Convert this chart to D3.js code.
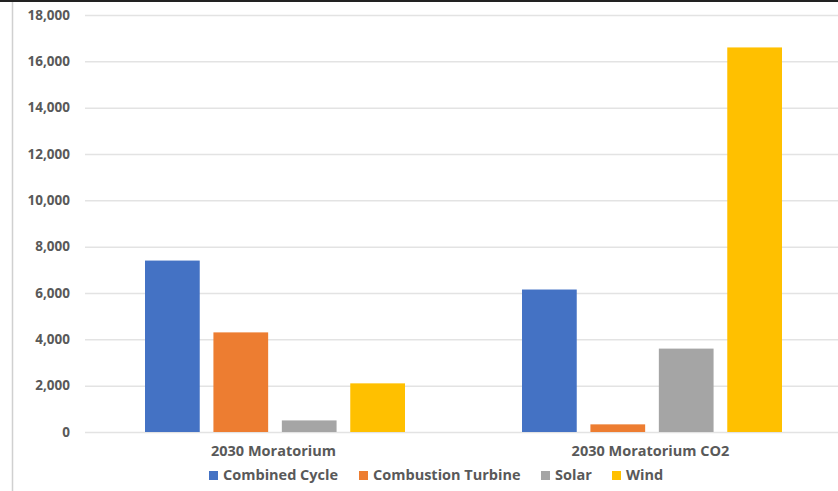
<!DOCTYPE html>
<html>
<head>
<meta charset="utf-8">
<script src="https://cdn.jsdelivr.net/npm/d3@7"></script>
<style>
  body { margin: 0; background: #fff; }
  text { font-family: "Open Sans", sans-serif; font-weight: 700; fill: #595959; }
</style>
</head>
<body>
<div id="chart"></div>
<script>
// data
var groups = ["2030 Moratorium", "2030 Moratorium CO2"];
var series = ["Combined Cycle", "Combustion Turbine", "Solar", "Wind"];
var colors = ["#4472c4", "#ed7d31", "#a5a5a5", "#ffc000"];
var combinedCycle = [7400, 6150];
var combustionTurbine = [4300, 330];
var solar = [500, 3600];
var wind = [2100, 16600];
var yTicks = [0, 2000, 4000, 6000, 8000, 10000, 12000, 14000, 16000, 18000];

var values = [combinedCycle, combustionTurbine, solar, wind];

var W = 838, H = 491;
var plotLeft = 85, plotRight = 839, plotTop = 15, plotBottom = 432;

var svg = d3.select("#chart")
    .append("svg")
    .attr("width", W)
    .attr("height", H);

// frame bits from the screenshot
svg.append("line")
    .attr("x1", 0).attr("x2", W).attr("y1", 1).attr("y2", 1)
    .attr("stroke", "#222").attr("stroke-width", 2);
svg.append("line")
    .attr("x1", 12.5).attr("x2", 12.5).attr("y1", 2).attr("y2", H)
    .attr("stroke", "#d0d0d0").attr("stroke-width", 1.5);

var x0 = d3.scaleBand()
    .domain(groups)
    .range([plotLeft, plotRight]);

var x1 = d3.scaleBand()
    .domain(series)
    .range([60, 320])
    .paddingInner(0.2);

var y = d3.scaleLinear()
    .domain([0, 18000])
    .range([plotBottom, plotTop]);

// gridlines
svg.append("g")
    .selectAll("line")
    .data(yTicks)
    .enter()
    .append("line")
    .attr("x1", plotLeft)
    .attr("x2", W)
    .attr("y1", function (d) { return y(d) + 0.5; })
    .attr("y2", function (d) { return y(d) + 0.5; })
    .attr("stroke", "#e3e3e3")
    .attr("stroke-width", 1.5);

// y labels
svg.append("g")
    .selectAll("text")
    .data(yTicks)
    .enter()
    .append("text")
    .attr("x", 70)
    .attr("y", function (d) { return y(d); })
    .attr("dy", "0.35em")
    .attr("text-anchor", "end")
    .style("font-size", "13.5px")
    .text(function (d) { return d3.format(",")(d); });

// bars
var rows = [];
groups.forEach(function (g, gi) {
    series.forEach(function (s, si) {
        rows.push({ group: g, series: s, value: values[si][gi], color: colors[si] });
    });
});

svg.append("g")
    .selectAll("rect")
    .data(rows)
    .enter()
    .append("rect")
    .attr("x", function (d) { return x0(d.group) + x1(d.series); })
    .attr("y", function (d) { return y(d.value); })
    .attr("width", x1.bandwidth())
    .attr("height", function (d) { return y(0) - y(d.value); })
    .attr("fill", function (d) { return d.color; });

// category labels
svg.append("g")
    .selectAll("text")
    .data(groups)
    .enter()
    .append("text")
    .attr("x", function (d) { return x0(d) + x0.bandwidth() / 2; })
    .attr("y", 456)
    .attr("text-anchor", "middle")
    .style("font-size", "14.5px")
    .text(function (d) { return d; });

// legend
var legendX = [209, 359, 541, 612];
var legend = svg.append("g")
    .selectAll("g")
    .data(series)
    .enter()
    .append("g")
    .attr("transform", function (d, i) { return "translate(" + legendX[i] + ",475)"; });

legend.append("rect")
    .attr("x", 0).attr("y", -4)
    .attr("width", 9).attr("height", 9)
    .attr("fill", function (d, i) { return colors[i]; });

legend.append("text")
    .attr("x", 14)
    .attr("y", 0)
    .attr("dy", "0.35em")
    .style("font-size", "14.5px")
    .text(function (d) { return d; });
</script>
</body>
</html>
